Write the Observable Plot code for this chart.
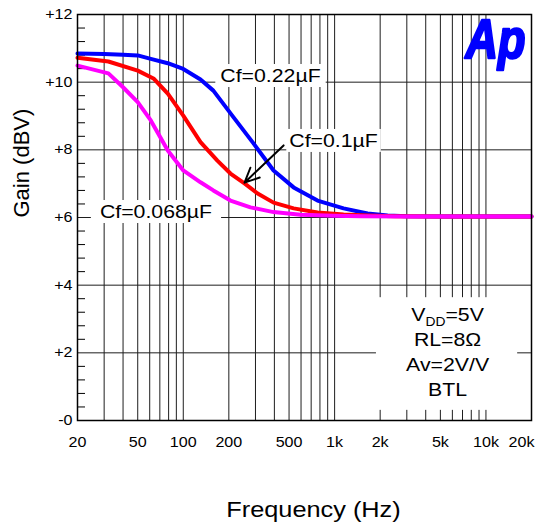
<!DOCTYPE html>
<html>
<head>
<meta charset="utf-8">
<script src="https://cdn.jsdelivr.net/npm/d3@7"></script>
<script src="https://cdn.jsdelivr.net/npm/@observablehq/plot@0.6"></script>
<style>
  html, body { margin: 0; padding: 0; background: #fff; }
  #chart svg { display: block; font-family: "Liberation Sans", Arial, sans-serif; }
</style>
</head>
<body>
<div id="chart"></div>
<script>
// ---------- data ----------
const seriesNames = ["Cf=0.22µF", "Cf=0.1µF", "Cf=0.068µF"];
const seriesColors = ["#0000ff", "#ff0000", "#ff00ff"];

const freq022 = [20, 30, 40, 50, 61, 79, 100, 130, 158, 215, 291, 395, 536, 771, 1146, 1652, 2240, 3000, 5000, 20000];
const gain022 = [10.85, 10.83, 10.81, 10.79, 10.69, 10.56, 10.39, 10.08, 9.75, 8.96, 8.19, 7.39, 6.89, 6.50, 6.27, 6.12, 6.06, 6.04, 6.03, 6.03];

const freq01 = [20, 32, 50, 64, 79, 100, 130, 168, 205, 255, 310, 395, 536, 771, 1146, 1652, 2500, 5000, 20000];
const gain01 = [10.72, 10.61, 10.34, 10.10, 9.66, 9.01, 8.23, 7.68, 7.30, 7.00, 6.71, 6.44, 6.27, 6.15, 6.09, 6.06, 6.04, 6.03, 6.03];

const freq0068 = [20, 32, 40, 50, 61, 79, 100, 130, 158, 205, 278, 395, 596, 984, 1500, 3000, 20000];
const gain0068 = [10.49, 10.26, 9.85, 9.41, 8.87, 7.98, 7.39, 7.04, 6.80, 6.50, 6.30, 6.16, 6.08, 6.05, 6.04, 6.03, 6.03];

const xTicks = [20, 50, 100, 200, 500, 1000, 2000, 5000, 10000, 20000];
const xTickLabels = ["20", "50", "100", "200", "500", "1k", "2k", "5k", "10k", "20k"];
const yTicks = [0, 2, 4, 6, 8, 10, 12];
const yTickLabels = ["-0", "+2", "+4", "+6", "+8", "+10", "+12"];
const yMinor = [0.4, 0.8, 1.2, 1.6, 2.4, 2.8, 3.2, 3.6, 4.4, 4.8, 5.2, 5.6, 6.4, 6.8, 7.2, 7.6, 8.4, 8.8, 9.2, 9.6, 10.4, 10.8, 11.2, 11.6];
const gridFreqs = [30, 40, 50, 60, 70, 80, 90, 100, 200, 300, 400, 500, 600, 700, 800, 900,
                   1000, 2000, 3000, 4000, 5000, 6000, 7000, 8000, 9000, 10000, 20000];

// annotations
const labelFreq = [377, 984, 66];
const labelGain = [10.18, 8.26, 6.16];
const labelPad = [5, 3, 9];
const arrowFrom = [460, 8.13];
const arrowTo = [254, 7.03];
const condLines = ["VDD=5V", "RL=8Ω", "Av=2V/V", "BTL"];
const condFreq = 5578;
const condGain = [3.12, 2.38, 1.64, 0.90];
const condBoxFreq = [1890, 16200];
const condBoxGain = [0.3, 3.63];

// ---------- build tables ----------
const rows = [];
[[freq022, gain022], [freq01, gain01], [freq0068, gain0068]].forEach(([F, G], k) =>
  F.forEach((f, i) => rows.push({series: seriesNames[k], f, g: G[i]})));
const labels = seriesNames.map((t, i) => ({t, f: labelFreq[i], g: labelGain[i]}));
const conds = condLines.map((t, i) => ({t, f: condFreq, g: condGain[i]}));
const xTickRows = xTicks.map((f, i) => ({f, t: xTickLabels[i]}));
const yLabel = new Map(yTicks.map((d, i) => [d, yTickLabels[i]]));
const gridColor = "#1e1e1e";

const chart = Plot.plot({
  width: 539, height: 527,
  marginLeft: 77, marginRight: 8, marginTop: 14, marginBottom: 107,
  x: {type: "log", domain: [20, 20000], axis: null},
  y: {domain: [0, 12]},
  color: {domain: seriesNames, range: seriesColors},
  style: {fontFamily: "'Liberation Sans', Arial, sans-serif", background: "white", color: "black"},
  marks: [
    Plot.ruleX(gridFreqs, {stroke: gridColor, strokeWidth: 1}),
    Plot.ruleY(yTicks, {stroke: gridColor, strokeWidth: 1}),
    Plot.axisY(yMinor, {anchor: "left", tickSize: 8, dx: 8, tickFormat: () => "", label: null, stroke: "black"}),
    Plot.rect([0], {x1: condBoxFreq[0], x2: condBoxFreq[1], y1: condBoxGain[0], y2: condBoxGain[1], fill: "white"}),
    Plot.text(conds, {x: "f", y: "g", text: "t", fontSize: 18.5, textAnchor: "middle", lineAnchor: "middle", fill: "black"}),
    Plot.line(rows, {x: "f", y: "g", z: "series", stroke: "series", strokeWidth: 4, curve: "linear", strokeLinejoin: "round"}),
    Plot.text(labels, {x: "f", y: "g", text: "t", fontSize: 18.5, textAnchor: "middle", lineAnchor: "middle", fill: "black"}),
    Plot.arrow([0], {x1: arrowFrom[0], y1: arrowFrom[1], x2: arrowTo[0], y2: arrowTo[1], stroke: "black", strokeWidth: 2, headLength: 12, headAngle: 50}),
    Plot.text(["Ap"], {frameAnchor: "top-right", dx: -6, dy: 4, textAnchor: "end", lineAnchor: "top", fontSize: 56, fontWeight: 900, fontStyle: "italic", fill: "#0000ff", stroke: "#0000ff", strokeWidth: 2.5}),
    Plot.frame({stroke: "black", strokeWidth: 1.5}),
    Plot.axisY(yTicks, {anchor: "left", tickSize: 0, tickPadding: 5, tickFormat: d => yLabel.get(d), fontSize: 14, label: null}),
    Plot.text(xTickRows.slice(0, -1), {x: "f", text: "t", frameAnchor: "bottom", dy: 17, lineAnchor: "top", fontSize: 14, fill: "black"}),
    Plot.text(xTickRows.slice(-1), {x: "f", text: "t", frameAnchor: "bottom", dy: 17, dx: -10, lineAnchor: "top", fontSize: 14, fill: "black"}),
    Plot.text(["Frequency (Hz)"], {frameAnchor: "bottom", dx: 9, dy: 96, lineAnchor: "bottom", fontSize: 22, fill: "black"}),
    Plot.text(["Gain (dBV)"], {frameAnchor: "left", dx: -56, rotate: -90, lineAnchor: "middle", fontSize: 22, fill: "black"})
  ]
});

document.getElementById("chart").append(chart);

// ---------- post-processing ----------
const S = d3.select(chart);
// VDD subscript
S.selectAll("text").filter(function () { return this.textContent === "VDD=5V"; }).each(function () {
  const t = d3.select(this);
  t.text("");
  t.append("tspan").text("V");
  t.append("tspan").attr("font-size", 12).attr("dy", 5).text("DD");
  t.append("tspan").attr("dy", -5).text("=5V");
});
// horizontal stretch of text to match the reference's proportions
const STRETCH = 1.15;
S.selectAll("text").each(function () {
  const s = this.textContent;
  if (s === "Gain (dBV)" || s === "Ap" || !s) return;
  const len = this.getComputedTextLength();
  if (len > 0) {
    this.setAttribute("textLength", (len * STRETCH).toFixed(2));
    this.setAttribute("lengthAdjust", "spacingAndGlyphs");
  }
});
S.selectAll("text").filter(function () { return this.textContent === "Ap"; }).each(function () {
  this.setAttribute("textLength", 60);
  this.setAttribute("lengthAdjust", "spacingAndGlyphs");
});
// white boxes behind the Cf labels
S.selectAll("text").filter(function () { return seriesNames.includes(this.textContent); }).each(function () {
  const b = this.getBBox();
  const p = labelPad[seriesNames.indexOf(this.textContent)];
  const r = document.createElementNS("http://www.w3.org/2000/svg", "rect");
  r.setAttribute("x", b.x - p);
  r.setAttribute("y", b.y - 1);
  r.setAttribute("width", b.width + 2 * p);
  r.setAttribute("height", b.height + 2);
  r.setAttribute("fill", "white");
  const tr = this.getAttribute("transform");
  if (tr) r.setAttribute("transform", tr);
  this.parentNode.insertBefore(r, this);
});
</script>
</body>
</html>
